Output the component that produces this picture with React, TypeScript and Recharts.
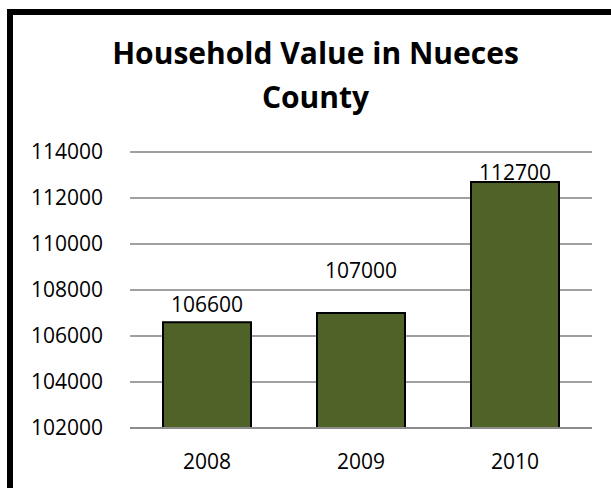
import React from "react";
import { BarChart, Bar, XAxis, YAxis, CartesianGrid, LabelList } from "recharts";

const years = ["2008", "2009", "2010"];
const values = [106600, 107000, 112700];
const yTicks = [102000, 104000, 106000, 108000, 110000, 112000, 114000];
const titleLines = ["Household Value in Nueces", "County"];

const labelLift = [10, 35, 2];

const data = years.map((year, i) => ({ year, value: values[i] }));

const FONT = "'Open Sans', sans-serif";

const renderLabel = (props: any) => {
  const { x, y, width, value, index } = props;
  return (
    <text
      x={Number(x) + Number(width) / 2}
      y={Number(y) - labelLift[index]}
      textAnchor="middle"
      fontFamily={FONT}
      fontSize={21}
      fill="#000"
    >
      {value}
    </text>
  );
};

export default function App() {
  return (
    <div style={{ position: "absolute", left: 0, top: 0, width: 611, height: 488, background: "#fff", overflow: "hidden" }}>
      <div
        style={{
          position: "absolute",
          left: 7,
          top: 9,
          width: 700,
          height: 600,
          border: "6px solid #000",
          boxSizing: "border-box",
        }}
      />
      <svg width={611} height={130} style={{ position: "absolute", left: 0, top: 0 }}>
        <text x={315.5} y={64} textAnchor="middle" fontFamily={FONT} fontWeight={700} fontSize={30} fill="#000">
          {titleLines[0]}
        </text>
        <text x={315.5} y={108} textAnchor="middle" fontFamily={FONT} fontWeight={700} fontSize={30} fill="#000">
          {titleLines[1]}
        </text>
      </svg>
      <div style={{ position: "absolute", left: 0, top: 0 }}>
        <BarChart
          width={611}
          height={488}
          data={data}
          margin={{ top: 152, right: 19, bottom: 0, left: 0 }}
          barCategoryGap={33}
        >
          <CartesianGrid vertical={false} stroke="#a0a0a0" strokeWidth={2} />
          <XAxis
            dataKey="year"
            axisLine={{ stroke: "#8c8c8c", strokeWidth: 2 }}
            tickLine={false}
            tickMargin={20}
            tick={{ fontFamily: FONT, fontSize: 21, fill: "#000" }}
            height={60}
          />
          <YAxis
            domain={[102000, 114000]}
            ticks={yTicks}
            axisLine={false}
            tickLine={false}
            tickMargin={21}
            width={130}
            interval={0}
            tick={{ fontFamily: FONT, fontSize: 21, fill: "#000" }}
          />
          <Bar dataKey="value" fill="#4f6228" stroke="#000" strokeWidth={2} isAnimationActive={false}>
            <LabelList dataKey="value" content={renderLabel} />
          </Bar>
        </BarChart>
      </div>
    </div>
  );
}
